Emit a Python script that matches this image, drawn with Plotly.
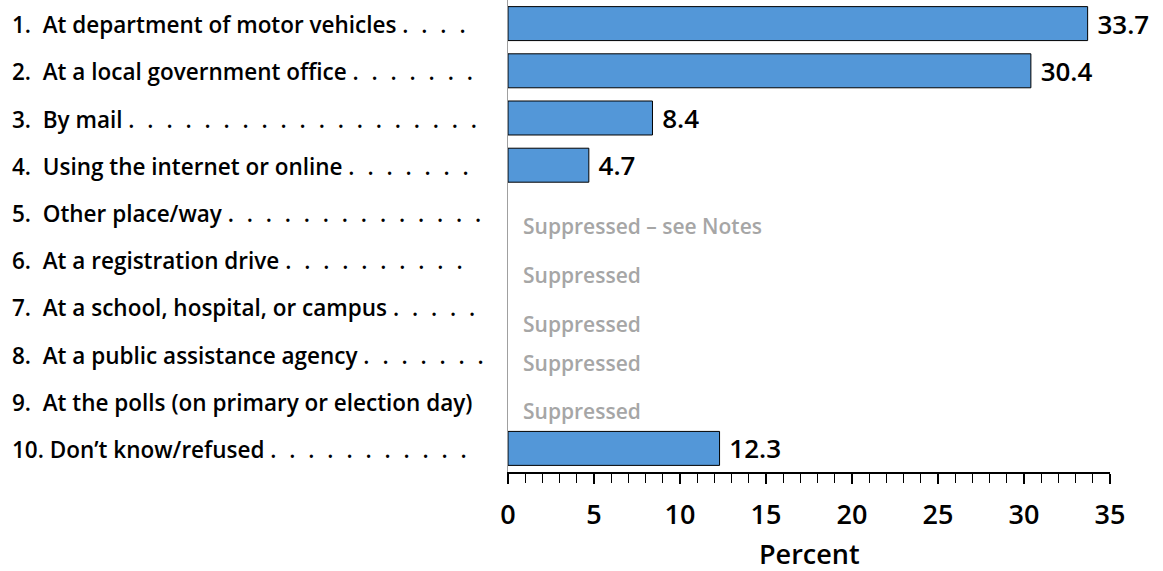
import plotly.graph_objects as go

categories = [
    "1.  At department of motor vehicles",
    "2.  At a local government office",
    "3.  By mail",
    "4.  Using the internet or online",
    "5.  Other place/way",
    "6.  At a registration drive",
    "7.  At a school, hospital, or campus",
    "8.  At a public assistance agency",
    "9.  At the polls (on primary or election day)",
    "10. Don\u2019t know/refused",
]
leader_dots = [4, 7, 19, 7, 14, 10, 5, 7, 0, 11]
values = [33.7, 30.4, 8.4, 4.7, None, None, None, None, None, 12.3]
value_labels = ["33.7", "30.4", "8.4", "4.7", "", "", "", "", "", "12.3"]
suppressed_text = ["", "", "", "", "Suppressed \u2013 see Notes", "Suppressed", "Suppressed",
                   "Suppressed", "Suppressed", ""]
suppressed_shift = [0, 0, 0, 0, -14, -15, -17, -9, -10, 0]
tick_vals = [0, 5, 10, 15, 20, 25, 30, 35]
x_title = "Percent"

FONT = "Open Sans"
ML, MR, MT, MB = 508, 53, 0, 99
W, H = 1163, 571
PW = W - ML - MR
PH = H - MT - MB

fig = go.Figure()
fig.add_trace(go.Bar(
    y=list(range(len(categories))),
    x=values,
    orientation="h",
    width=0.72,
    marker=dict(color="#5397D8", line=dict(color="#000000", width=1)),
    text=["\u00a0" + v if v else "" for v in value_labels],
    textposition="outside",
    textfont=dict(family=FONT, size=26, color="#000000", weight=600),
    cliponaxis=False,
    constraintext="none",
    hoverinfo="skip",
))

ann = []
dot_unit = "\u2007."
for i, (c, n) in enumerate(zip(categories, leader_dots)):
    txt = c + ("\u00a0." + dot_unit * (n - 1) if n > 0 else "")
    ann.append(dict(
        x=(10 - ML) / PW, xref="paper", y=i, yref="y",
        text=txt, showarrow=False, xanchor="left", yanchor="middle",
        font=dict(family=FONT, size=22.5, color="#000000", weight=600),
        yshift=-1,
    ))
for i, s in enumerate(suppressed_text):
    if s:
        ann.append(dict(
            x=0, xref="x", y=i, yref="y", text=s, showarrow=False,
            xanchor="left", yanchor="middle", xshift=13, yshift=suppressed_shift[i],
            font=dict(family=FONT, size=21, color="#A6A6A6", weight=600),
        ))
ann.append(dict(
    x=0.5, xref="paper", y=-(553 - PH) / PH, yref="paper", text=x_title,
    showarrow=False, xanchor="center", yanchor="middle",
    font=dict(family=FONT, size=27, color="#000000", weight=600),
))

fig.update_layout(
    width=W, height=H,
    margin=dict(l=ML, r=MR, t=MT, b=MB, pad=0, autoexpand=False),
    plot_bgcolor="white", paper_bgcolor="white",
    showlegend=False,
    annotations=ann,
    font=dict(family=FONT, color="#000000"),
)
fig.update_yaxes(
    range=[len(categories) - 0.5, -0.5],
    showticklabels=False, ticks="", showgrid=False, zeroline=False,
    showline=True, linecolor="#A0A0A0", linewidth=1, automargin=False,
)
fig.update_xaxes(
    range=[0, 35], tickvals=tick_vals, ticktext=[str(t) for t in tick_vals],
    ticks="outside", ticklen=10, tickwidth=2, tickcolor="#000000",
    minor=dict(dtick=1, ticks="outside", ticklen=9, tickwidth=1, tickcolor="#000000"),
    showline=True, linecolor="#000000", linewidth=1.5,
    showgrid=False, zeroline=False, automargin=False,
    tickfont=dict(family=FONT, size=27, color="#000000", weight=600),
    ticklabelstandoff=8,
)

fig.write_html("out.html", config={"displayModeBar": False},
               post_script="document.body.style.margin='0';document.body.style.overflow='hidden';")
